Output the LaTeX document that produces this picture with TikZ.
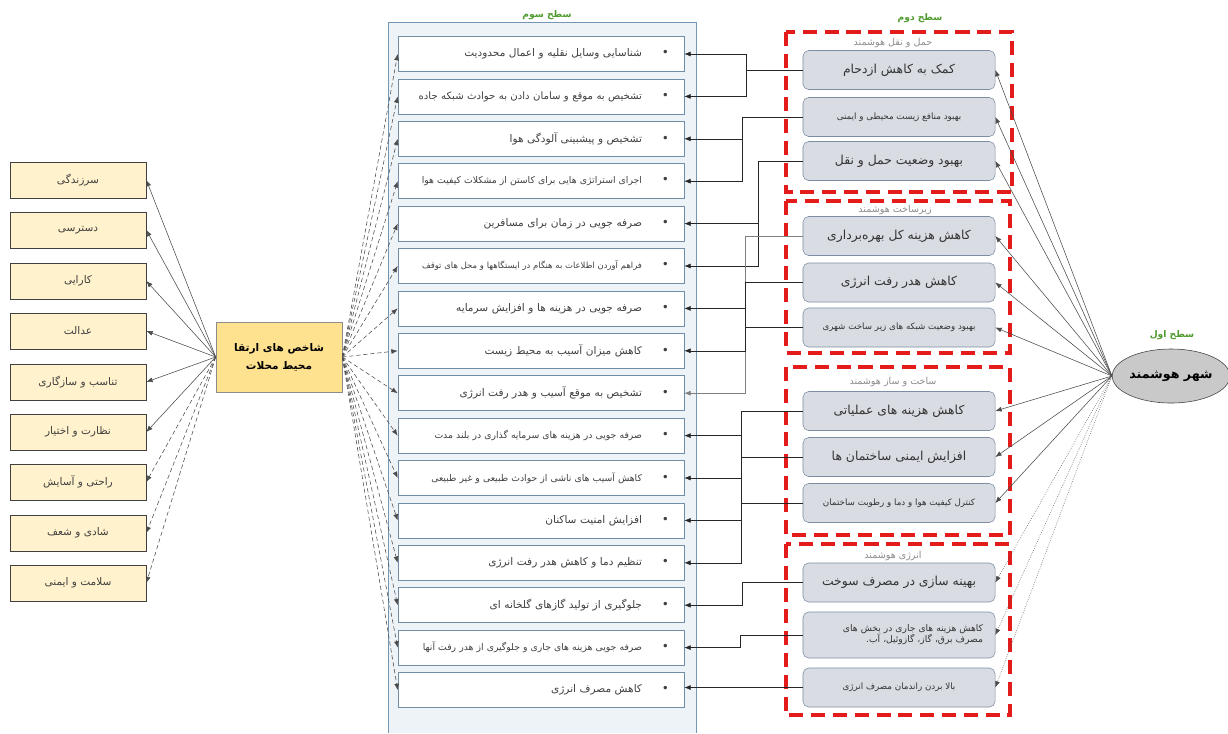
\documentclass[tikz,border=0pt]{standalone}
\usepackage{fontspec}
\usepackage{xcolor}
\usepackage{tikz}
\usetikzlibrary{positioning, arrows.meta, shapes.geometric}
\newfontfamily\pfont[Script=Arabic]{DejaVu Sans}
\TeXXeTstate=1
\newcommand{\fatxt}[1]{\beginR#1\endR}
\newcommand{\bul}{{\fontsize{8.5}{8.5}\selectfont\textbullet}\hspace{5mm}}
\definecolor{critfill}{HTML}{FFF2CC}
\definecolor{hubfill}{HTML}{FFE28F}
\definecolor{panelfill}{HTML}{EEF3F8}
\definecolor{panelline}{HTML}{7396B5}
\definecolor{itemline}{HTML}{6F8DA8}
\definecolor{goalfill}{HTML}{D9DDE3}
\definecolor{goalline}{HTML}{7D8DA3}
\definecolor{framered}{HTML}{E31B1B}
\definecolor{tiergreen}{HTML}{4F9A2E}
\definecolor{headgray}{HTML}{8C8C8C}
\definecolor{cityfill}{HTML}{C9C9C9}

\begin{document}
\begin{tikzpicture}[x=0.025cm, y=-0.025cm,
    crit/.style = {draw=black!75, fill=critfill, minimum width=3.4cm, minimum height=0.9cm, text=black!75, font=\pfont\fontsize{7.5}{8.5}\selectfont},
    hub/.style = {draw=black!45, fill=hubfill, minimum width=3.15cm, minimum height=1.75cm, align=center, font=\pfont\bfseries\fontsize{7.5}{13}\selectfont},
    item/.style = {draw=itemline, fill=white, minimum height=0.875cm, text width=6.4cm, inner xsep=0.375cm, align=right, text=black!75, font=\pfont\fontsize{7.5}{8.5}\selectfont},
    itemsm/.style = {item, font=\pfont\fontsize{6.6}{7.5}\selectfont},
    itemxs/.style = {item, font=\pfont\fontsize{6}{7}\selectfont},
    goal/.style = {draw=goalline, fill=goalfill, rounded corners=4pt, minimum width=4.8cm, minimum height=0.975cm, align=center, text=black!80, font=\pfont\fontsize{8.8}{10}\selectfont},
    goalsm/.style = {goal, font=\pfont\fontsize{6.2}{7.5}\selectfont},
    redframe/.style = {draw=framered, line width=3.4pt, dash pattern=on 10pt off 5.5pt},
    tier/.style = {text=tiergreen, font=\pfont\bfseries\fontsize{6.5}{7}\selectfont},
    grouphead/.style = {text=headgray, font=\pfont\fontsize{6.8}{7}\selectfont},
    city/.style = {ellipse, draw=black!75, fill=cityfill, minimum width=2.75cm, minimum height=1.35cm, inner sep=0pt, font=\pfont\bfseries\fontsize{9}{10}\selectfont},
    arr/.style = {-{Latex[length=4.5pt,width=3.5pt]}},
    link/.style = {arr, draw=black!70, thin},
    dotlink/.style = {link, densely dotted},
    dashlink/.style = {link, densely dashed},
    bus/.style = {arr, draw=black!85, thin}]
    \useasboundingbox (0,0) rectangle (1228,733);

    % شاخص ها
    \node[crit] (k1) at (78,180) {\fatxt{سرزندگی}};
    \node[crit] (k2) at (78,230) {\fatxt{دسترسی}};
    \node[crit] (k3) at (78,281) {\fatxt{کارایی}};
    \node[crit] (k4) at (78,331) {\fatxt{عدالت}};
    \node[crit] (k5) at (78,382) {\fatxt{تناسب و سازگاری}};
    \node[crit] (k6) at (78,432) {\fatxt{نظارت و اختیار}};
    \node[crit] (k7) at (78,482) {\fatxt{راحتی و آسایش}};
    \node[crit] (k8) at (78,533) {\fatxt{شادی و شعف}};
    \node[crit] (k9) at (78,583) {\fatxt{سلامت و ایمنی}};
    \node[hub] (hub) at (279,357) {\fatxt{شاخص های ارتقا}\\\fatxt{محیط محلات}};

    % سطح سوم
    \fill[panelfill] (388,22) rectangle (696,733);
    \draw[panelline] (388,733) -- (388,22) -- (696,22) -- (696,733);
    \node[tier] (l3) at (547,15) {\fatxt{سطح سوم}};
    \node[item] (t1) at (541,54) {\fatxt{\bul شناسایی وسایل نقلیه و اعمال محدودیت}};
    \node[item, font=\pfont\fontsize{7.2}{8}\selectfont] (t2) at (541,96.4) {\fatxt{\bul تشخیص به موقع و سامان دادن به حوادث شبکه جاده}};
    \node[item] (t3) at (541,138.8) {\fatxt{\bul تشخیص و پیشبینی آلودگی هوا}};
    \node[itemsm] (t4) at (541,181.2) {\fatxt{\bul اجرای استراتژی هایی برای کاستن از مشکلات کیفیت هوا}};
    \node[item] (t5) at (541,223.6) {\fatxt{\bul صرفه جویی در زمان برای مسافرین}};
    \node[itemxs] (t6) at (541,266) {\fatxt{\bul فراهم آوردن اطلاعات به هنگام در ایستگاهها و محل های توقف}};
    \node[item] (t7) at (541,308.4) {\fatxt{\bul صرفه جویی در هزینه ها و افزایش سرمایه}};
    \node[item] (t8) at (541,350.8) {\fatxt{\bul کاهش میزان آسیب به محیط زیست}};
    \node[item] (t9) at (541,393.2) {\fatxt{\bul تشخیص به موقع آسیب و هدر رفت انرژی}};
    \node[itemsm] (t10) at (541,435.6) {\fatxt{\bul صرفه جویی در هزینه های سرمایه گذاری در بلند مدت}};
    \node[itemsm] (t11) at (541,478) {\fatxt{\bul کاهش آسیب های ناشی از حوادث طبیعی و غیر طبیعی}};
    \node[item] (t12) at (541,520.4) {\fatxt{\bul افزایش امنیت ساکنان}};
    \node[item] (t13) at (541,562.8) {\fatxt{\bul تنظیم دما و کاهش هدر رفت انرژی}};
    \node[item] (t14) at (541,605.2) {\fatxt{\bul جلوگیری از تولید گازهای گلخانه ای}};
    \node[itemsm] (t15) at (541,647.6) {\fatxt{\bul صرفه جویی هزینه های جاری و جلوگیری از هدر رفت آنها}};
    \node[item] (t16) at (541,690) {\fatxt{\bul کاهش مصرف انرژی}};

    % سطح دوم
    \node[tier] (l2) at (920,18) {\fatxt{سطح دوم}};
    \draw[redframe] (786,32) rectangle (1012,192);
    \draw[redframe] (786,201) rectangle (1010,353);
    \draw[redframe] (786,367) rectangle (1010,535);
    \draw[redframe] (786,544) rectangle (1010,715);
    \node[grouphead] (ga) at (893,43) {\fatxt{حمل و نقل هوشمند}};
    \node[goal] (a1) at (899,70) {\fatxt{کمک به کاهش ازدحام}};
    \node[goalsm] (a2) at (899,117) {\fatxt{بهبود منافع زیست محیطی و ایمنی}};
    \node[goal] (a3) at (899,161) {\fatxt{بهبود وضعیت حمل و نقل}};
    \node[grouphead] (gb) at (895,210) {\fatxt{زیرساخت هوشمند}};
    \node[goal] (b1) at (899,236) {\fatxt{کاهش هزینه کل بهره‌برداری}};
    \node[goal] (b2) at (899,282.5) {\fatxt{کاهش هدر رفت انرژی}};
    \node[goalsm] (b3) at (899,327.5) {\fatxt{بهبود وضعیت شبکه های زیر ساخت شهری}};
    \node[grouphead] (gc) at (893,382) {\fatxt{ساخت و ساز هوشمند}};
    \node[goal] (c1) at (899,411) {\fatxt{کاهش هزینه های عملیاتی}};
    \node[goal] (c2) at (899,457) {\fatxt{افزایش ایمنی ساختمان ها}};
    \node[goalsm] (c3) at (899,503) {\fatxt{کنترل کیفیت هوا و دما و رطوبت ساختمان}};
    \node[grouphead] (gd) at (893,556) {\fatxt{انرژی هوشمند}};
    \node[goal] (d1) at (899,582.5) {\fatxt{بهینه سازی در مصرف سوخت}};
    \node[goalsm, font=\pfont\fontsize{6.5}{8}\selectfont, text width=4.2cm, align=right, minimum height=1.15cm] (d2) at (899,635) {\fatxt{کاهش هزینه های جاری در بخش های}\\\fatxt{مصرف برق، گاز، گازوئیل، آب.}};
    \node[goalsm] (d3) at (899,687.5) {\fatxt{بالا بردن راندمان مصرف انرژی}};

    % سطح اول
    \node[tier] (l1) at (1172,335) {\fatxt{سطح اول}};
    \node[city] (city) at (1171,376) {\fatxt{شهر هوشمند}};

    % پیکان ها
    \foreach \g in {a1,a2,a3,b1,b2,b3,c1,c2,c3}
        \draw[link] (city.west) -- (\g.east);
    \foreach \g in {d1,d2,d3}
        \draw[dotlink] (city.west) -- (\g.east);
    \foreach \i in {1,...,16}
        \draw[dashlink] (hub.east) -- (t\i.west);
    \foreach \i in {1,...,6}
        \draw[link] (hub.west) -- (k\i.east);
    \foreach \i in {7,8,9}
        \draw[dashlink] (hub.west) -- (k\i.east);

    \draw[bus] (a1.west) -- ++(-56,0) |- (t1.east);
    \draw[bus] (a1.west) -- ++(-56,0) |- (t2.east);
    \draw[bus] (a2.west) -- ++(-60,0) |- (t3.east);
    \draw[bus] (a2.west) -- ++(-60,0) |- (t4.east);
    \draw[bus] (a3.west) -- ++(-44,0) |- (t5.east);
    \draw[bus] (a3.west) -- ++(-44,0) |- (t6.east);
    \draw[bus, draw=black!50] (b1.west) -- ++(-57,0) |- (t9.east);
    \draw[bus] (b2.west) -- ++(-57,0) |- (t7.east);
    \draw[bus] (b2.west) -- ++(-57,0) |- (t8.east);
    \draw[black!85, thin] (b3.west) -- ++(-57,0);
    \draw[bus] (c1.west) -- ++(-61,0) |- (t10.east);
    \draw[bus] (c1.west) -- ++(-61,0) |- (t11.east);
    \draw[bus] (c1.west) -- ++(-61,0) |- (t12.east);
    \draw[bus] (c1.west) -- ++(-61,0) |- (t13.east);
    \draw[black!85, thin] (c2.west) -- ++(-61,0);
    \draw[black!85, thin] (c3.west) -- ++(-61,0);
    \draw[bus] (d1.west) -- ++(-60,0) |- (t14.east);
    \draw[bus] (d2.west) -- ++(-62,0) |- (t15.east);
    \draw[bus] (d3.west) -- (d3.west -| t16.east);
\end{tikzpicture}
\end{document}
